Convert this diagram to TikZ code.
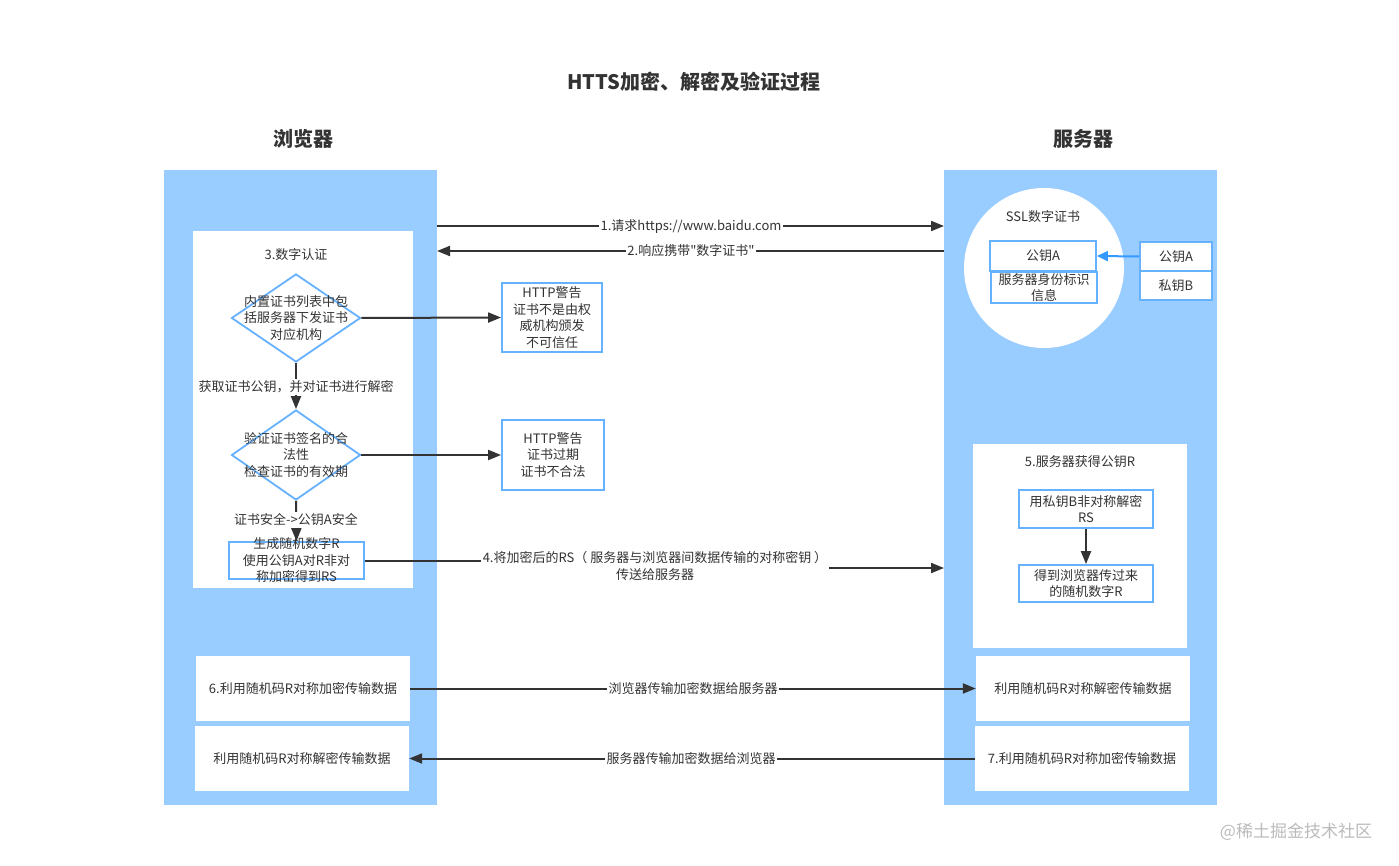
\documentclass[tikz,border=0pt]{standalone}
\usepackage{fontspec}
\setmainfont{Noto Sans CJK SC}
\newfontfamily\plainquote{Noto Sans CJK SC}
\usetikzlibrary{arrows.meta,shapes.geometric}
\definecolor{colblue}{HTML}{99CCFF}
\definecolor{edgeblue}{HTML}{66B2FF}
\definecolor{arrowblue}{HTML}{3399FF}
\definecolor{ink}{HTML}{333333}
\definecolor{wm}{HTML}{BBBBBB}
\begin{document}
\begin{tikzpicture}[x=1pt,y=-1pt,
  col/.style={rectangle,fill=colblue,inner sep=0pt},
  wpanel/.style={rectangle,fill=white,inner sep=0pt},
  txt/.style={font=\fontsize{13}{16.5}\selectfont,text=ink,align=center,inner sep=0pt},
  lbl/.style={txt,fill=white,inner sep=1.5pt},
  bbox/.style={rectangle,draw=edgeblue,line width=1.8pt,fill=white,inner sep=0pt,txt},
  dia/.style={diamond,draw=edgeblue,line width=1.8pt,fill=white,inner sep=0pt},
  conn/.style={draw=ink,line width=2pt},
  arr/.style={conn,-{Triangle[length=13pt,width=10pt]}},
  head/.style={font=\fontsize{20}{24}\selectfont\bfseries,text=ink,inner sep=0pt}]
\useasboundingbox (0,0) rectangle (1399,866);
\fill[white] (0,0) rectangle (1399,866);

% titles
\node[head] (title) at (694,82) {HTTS加密、解密及验证过程};
\node[head] (hb) at (303,139) {浏览器};
\node[head] (hs) at (1083,139) {服务器};

% columns
\node[col,minimum width=273,minimum height=635] (lcol) at (300.5,487.5) {};
\node[col,minimum width=273,minimum height=635] (rcol) at (1080.5,487.5) {};

% panels
\node[wpanel,minimum width=220,minimum height=357] (lpanel) at (303,409.5) {};
\node[wpanel,minimum width=214,minimum height=204] (rpanel) at (1080,546) {};
\node[txt] (t3) at (296,255) {3.数字认证};
\node[txt] (t5) at (1080,462) {5.服务器获得公钥R};

% free ends on the columns
\coordinate (a1s) at (437,226);
\coordinate (a1e) at (944,226);
\coordinate (a2s) at (944,251);
\coordinate (a2e) at (437,251);
\coordinate (a4e) at (944,568);

% browser flow
\node[dia,minimum width=129,minimum height=88] (d1) at (296,318) {};
\node[txt] (d1t) at (d1) {内置证书列表中包\\括服务器下发证书\\对应机构};
\node[dia,minimum width=129,minimum height=90] (d2) at (296,455) {};
\node[txt] (d2t) at (d2) {验证证书签名的合\\法性\\检查证书的有效期};
\node[bbox,minimum width=100,minimum height=69] (w1) at (552,317.5) {HTTP警告\\证书不是由权\\威机构颁发\\不可信任};
\node[bbox,minimum width=102,minimum height=70] (w2) at (553,455) {HTTP警告\\证书过期\\证书不合法};
\node[bbox,minimum width=135,minimum height=37] (b3) at (296.5,560.5) {};

\draw[arr] (d1.east) -- (w1.west);
\draw[arr] (d2.east) -- (w2.west);
\draw[arr] (d1.south) -- (d2.north);
\node[lbl] (l12) at (296,387) {获取证书公钥，并对证书进行解密};
\draw[arr] (d2.south) -- (b3.north);
\node[lbl] (l23) at (296,520) {证书安全->公钥A安全};
\node[txt] (b3t) at (b3) {生成随机数字R\\使用公钥A对R非对\\称加密得到RS};

% server certificate
\node[circle,fill=white,minimum size=160,inner sep=0pt] (cert) at (1044,268) {};
\node[txt] (certt) at (1043,217) {SSL数字证书};
\node[bbox,minimum width=106,minimum height=30] (cpk) at (1043,256) {公钥A};
\node[bbox,minimum width=106,minimum height=31] (cid) at (1044,287.5) {};
\node[txt] (cidt) at (cid) {服务器身份标识\\信息};
\node[bbox,minimum width=72,minimum height=29] (kpa) at (1176,256.5) {公钥A};
\node[bbox,minimum width=72,minimum height=29] (kpb) at (1176,285.5) {私钥B};
\draw[draw=arrowblue,line width=2pt,-{Triangle[length=11pt,width=10pt]}] (kpa.west) -- (cpk.east);

% server step 5
\node[bbox,minimum width=134,minimum height=38] (s5a) at (1086,509) {用私钥B非对称解密\\RS};
\node[bbox,minimum width=134,minimum height=37] (s5b) at (1086,583.5) {得到浏览器传过来\\的随机数字R};
\draw[arr] (s5a.south) -- (s5b.north);

% arrows 1, 2
\draw[arr] (a1s) -- (a1e);
\node[lbl] (l1) at (691,227) {1.请求https://www.baidu.com};
\draw[arr] (a2s) -- (a2e);
\node[lbl,font=\fontsize{13}{16.5}\selectfont\plainquote] (l2) at (691,251) {2.响应携带"数字证书"};

% arrow 4
\draw[arr] (b3.east) -- (655,560.5) -- (655,568) -- (a4e);
\node[lbl] (l4) at (655,566) {4.将加密后的RS（ 服务器与浏览器间数据传输的对称密钥 ）\\传送给服务器};

% bottom
\node[wpanel,txt,minimum width=214,minimum height=65] (b6) at (303,688.5) {6.利用随机码R对称加密传输数据};
\node[wpanel,txt,minimum width=214,minimum height=65] (bdl) at (302,758.5) {利用随机码R对称解密传输数据};
\node[wpanel,txt,minimum width=214,minimum height=65] (bdr) at (1083,688.5) {利用随机码R对称解密传输数据};
\node[wpanel,txt,minimum width=214,minimum height=65] (b7) at (1082,758.5) {7.利用随机码R对称加密传输数据};
\draw[arr] (b6.east) -- (bdr.west);
\node[lbl] (l6) at (693,688.5) {浏览器传输加密数据给服务器};
\draw[arr] (b7.west) -- (bdl.east);
\node[lbl] (l7) at (691,758.5) {服务器传输加密数据给浏览器};

% watermark
\node[font=\fontsize{17}{20}\selectfont,text=wm,inner sep=0pt] (wmk) at (1296,832) {@稀土掘金技术社区};
\end{tikzpicture}
\end{document}
